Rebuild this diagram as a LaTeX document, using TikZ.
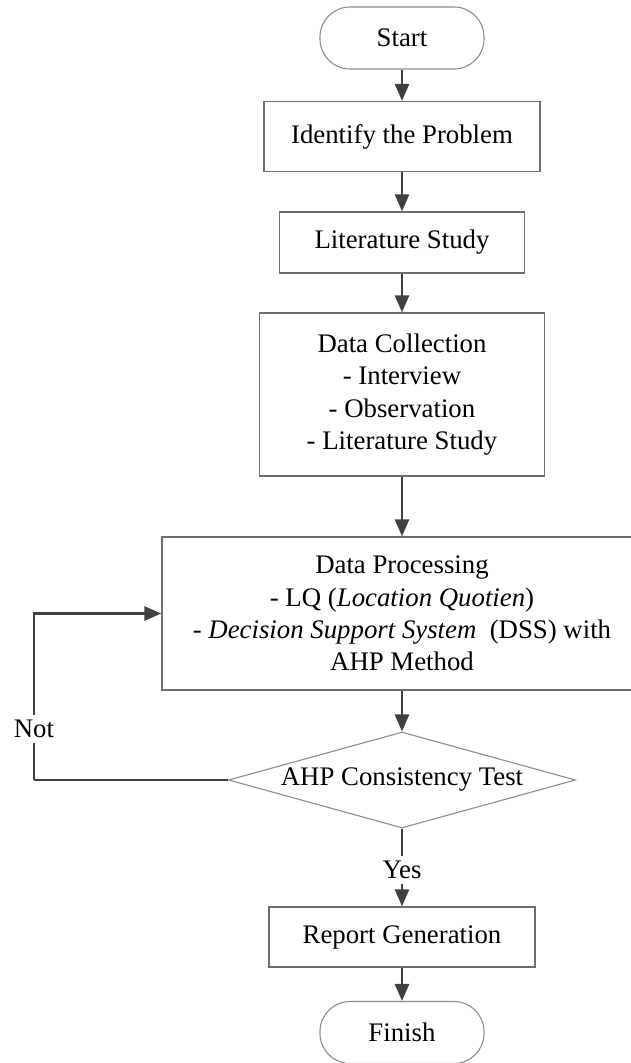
\documentclass[tikz,border=0pt]{standalone}
\usepackage{fontspec}
\setmainfont{Liberation Serif}
\usetikzlibrary{arrows.meta,shapes.geometric}
\definecolor{boxc}{HTML}{6E6E6E}
\definecolor{diac}{HTML}{8C8C8C}
\definecolor{arrc}{HTML}{404040}
\begin{document}
\begin{tikzpicture}[x=1pt,y=-1pt,
  every node/.style={font=\fontsize{26.8}{32.4}\selectfont, inner sep=0pt},
  procbox/.style={draw=boxc, line width=1.3pt, align=center},
  termbox/.style={draw=diac, line width=1.1pt, rounded corners=30pt, minimum width=164pt, minimum height=62pt},
  decbox/.style={draw=diac, line width=1.1pt, diamond, shape aspect=3.6, minimum width=347pt, minimum height=96pt},
  arr/.style={draw=arrc, line width=2.8pt, -{Triangle[length=17pt,width=14pt]}},
  plainline/.style={draw=arrc, line width=2.8pt},
  lbl/.style={fill=white, inner sep=5pt}
]
\useasboundingbox (0,0) rectangle (630,1063);
\node[termbox] (start) at (402,38) {Start};
\node[procbox, minimum width=276pt, minimum height=70pt] (ident) at (402,136.5) {Identify the Problem};
\node[procbox, minimum width=245pt, minimum height=61pt] (lit) at (402,242.5) {Literature Study};
\node[procbox, minimum width=285pt, minimum height=163pt] (dc) at (402,394.5) {Data Collection\\- Interview\\- Observation\\- Literature Study};
\node[procbox, minimum width=480pt, minimum height=153pt] (dp) at (402,613.5) {Data Processing\\- LQ (\textit{Location Quotien})\\- \textit{Decision Support System}\ \ (DSS) with\\AHP Method};
\node[decbox] (dia) at (402,780) {AHP Consistency Test};
\node[procbox, minimum width=266pt, minimum height=60pt] (rep) at (402,937) {Report Generation};
\node[termbox] (fin) at (402,1032.5) {Finish};
\coordinate (c1) at (34,780);
\coordinate (c2) at (34,613.5);
\draw[arr] (start.south) -- (ident.north);
\draw[arr] (ident.south) -- (lit.north);
\draw[arr] (lit.south) -- (dc.north);
\draw[arr] (dc.south) -- (dp.north);
\draw[arr] (dp.south) -- (dia.north);
\draw[arr] (dia.south) -- node[lbl, pos=0.53] (yes) {Yes} (rep.north);
\draw[arr] (rep.south) -- (fin.north);
\draw[plainline] (dia.west) -- (c1);
\draw[arr] (c1) -- node[lbl, pos=0.305] (no) {Not} (c2) -- (dp.west);
\end{tikzpicture}
\end{document}
